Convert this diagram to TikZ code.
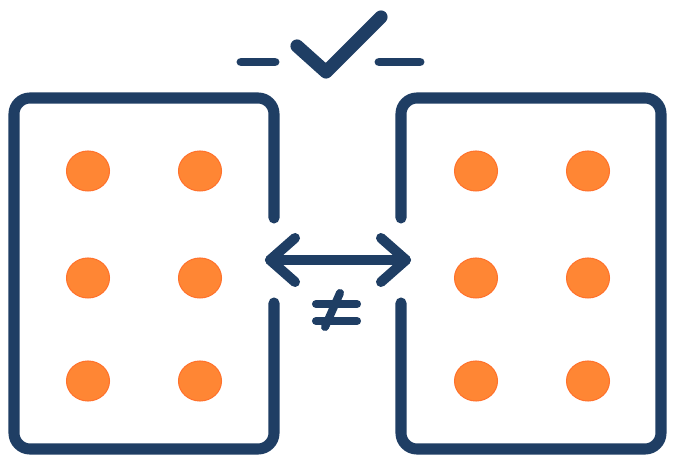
\documentclass[tikz,border=0pt]{standalone}
\usepackage{tikz}
\usetikzlibrary{positioning, shapes.geometric}
\definecolor{navy}{RGB}{31,62,100}
\definecolor{dotorange}{RGB}{255,134,52}
\tikzset{
  frame/.style = {draw=navy, line width=6.3pt, line cap=round,
    line join=round, rounded corners=0.32cm},
  link/.style = {draw=navy, line width=5.7pt, line cap=round,
    line join=round},
  dot/.style = {ellipse, fill=dotorange, draw=dotorange!85!red,
    line width=0.6pt, inner sep=0pt, minimum width=0.86cm,
    minimum height=0.8cm}
}

\begin{document}
\begin{tikzpicture}[x=0.02cm, y=-0.02cm]
\useasboundingbox (0,0) rectangle (676,465);
% left set
\draw [frame] (274,218) -- (274,98) -- (14,98) -- (14,449)
  -- (274,449) -- (274,303);
% right set
\draw [frame] (401,218) -- (401,98) -- (661,98) -- (661,449)
  -- (401,449) -- (401,303);
% dots
\foreach \r/\y in {1/171, 2/278, 3/381} {
  \node [dot] (l\r a) at (88,\y) {};
  \node [dot] (l\r b) at (200,\y) {};
  \node [dot] (r\r a) at (476,\y) {};
  \node [dot] (r\r b) at (588,\y) {};
}
% double arrow
\coordinate (la) at (270,260);
\coordinate (ra) at (406,260);
\draw [link] (la) -- (ra);
\draw [link] (295,238) -- (la) -- (295,282);
\draw [link] (381,238) -- (ra) -- (381,282);
% not equal
\draw [link, line width=4.6pt] (316,304) -- (357,304);
\draw [link, line width=4.6pt] (316,321) -- (357,321);
\draw [link, line width=4.6pt] (340,293) -- (325,327);
% check with dashes
\draw [link, line width=7.5pt] (297,46) -- (326,72) -- (381,17);
\draw [link, line width=5.1pt] (241,62) -- (275,62);
\draw [link, line width=5.1pt] (379,62) -- (420,62);
\end{tikzpicture}
\end{document}
